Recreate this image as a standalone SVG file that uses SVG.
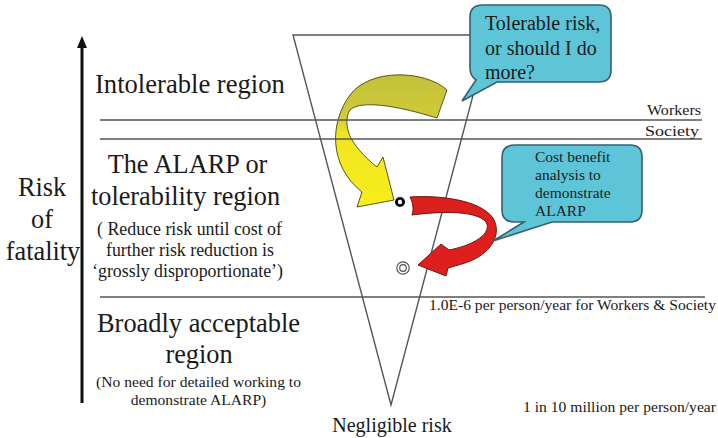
<svg xmlns="http://www.w3.org/2000/svg" width="718" height="438" viewBox="0 0 718 438">
<defs>
<style>
.t{font-family:"Liberation Serif","Times New Roman",serif;fill:#1a1a1a}
.big{font-size:26.3px}
.mid{font-size:18px}
.sm{font-size:15.6px}
.ln{stroke:#555;stroke-width:1.4;fill:none}
.bub{fill:#5EC5D9;stroke:#35606c;stroke-width:1.6}
</style>
<linearGradient id="yg" x1="0" y1="0" x2="0" y2="1">
<stop offset="0" stop-color="#C4C03C"/>
<stop offset="0.3" stop-color="#CFCA36"/>
<stop offset="0.45" stop-color="#EFE622"/>
<stop offset="1" stop-color="#F8EE1A"/>
</linearGradient>
</defs>
<rect width="718" height="438" fill="#fff"/>

<g id="yellow-arrow">
<path d="M447,90 C425,70 370,68 350,95 C330,122 328,165 362,192 L357,207 L394,200 L383,157 L377,167 C368,160 358,150 352,140 C345,128 346,116 350,110 C360,100 395,105 437,118 Z" fill="url(#yg)" stroke="#5a5520" stroke-width="1"/>
</g>

<g id="connectors">
<path d="M82,403 V46" stroke="#111" stroke-width="3" fill="none"/>
<path d="M82,36 L77,48 L87,48 Z" fill="#111"/>
<path class="ln" d="M293,35 H489 L391,405 Z" stroke="#333" stroke-width="1.2"/>
<line class="ln" x1="100" y1="120" x2="702" y2="120"/>
<line class="ln" x1="100" y1="139" x2="702" y2="139"/>
<line class="ln" x1="100" y1="297" x2="705" y2="297"/>
</g>

<g id="red-arrow">
<path d="M410,197 C440,195 480,200 493,218 C503,235 490,255 465,263 L448,268 L446,276 L418,265 L441,244 L449,250 C470,246 490,236 487,224 C482,212 450,210 412,215 C414,209 413,203 410,197 Z" fill="#DF1F1E" stroke="#6a1a10" stroke-width="1"/>
</g>

<g id="markers">
<circle cx="400" cy="202" r="3.6" fill="#fff" stroke="#000" stroke-width="2.8"/>
<circle cx="403" cy="268" r="6.2" fill="#fff" stroke="#555" stroke-width="1.2"/>
<circle cx="403" cy="268" r="3.3" fill="none" stroke="#555" stroke-width="1.2"/>
</g>

<g id="bubble-tolerable">
<path class="bub" d="M483,5 H599 Q611,5 611,17 V70 Q611,82 599,82 H497 L462,101 L476,80 Q470,76 470,68 V17 Q470,5 483,5 Z"/>
<text class="t" x="485" y="30" font-size="20">Tolerable risk,</text>
<text class="t" x="485" y="55" font-size="20">or should I do</text>
<text class="t" x="485" y="79" font-size="20">more?</text>
</g>

<g id="bubble-cost">
<path class="bub" d="M515,145 H630 Q642,145 642,157 V210 Q642,222 630,222 H552 L493,241 L524,222 H514 Q502,222 502,210 V157 Q502,145 515,145 Z"/>
<text class="t" x="535" y="162" font-size="15.5">Cost benefit</text>
<text class="t" x="535" y="180" font-size="15.5">analysis to</text>
<text class="t" x="535" y="198" font-size="15.5">demonstrate</text>
<text class="t" x="535" y="216" font-size="15.5">ALARP</text>
</g>

<g id="axis-label">
<text class="t big" x="42" y="196" text-anchor="middle">Risk</text>
<text class="t big" x="42" y="228" text-anchor="middle">of</text>
<text class="t big" x="43" y="260" text-anchor="middle">fatality</text>
</g>

<g id="intolerable">
<text class="t" x="95" y="93" font-size="26.6">Intolerable region</text>
</g>

<g id="alarp">
<text class="t big" x="187.5" y="173" text-anchor="middle">The ALARP or</text>
<text class="t big" x="185.5" y="205" text-anchor="middle">tolerability region</text>
<text class="t mid" x="189.5" y="235" text-anchor="middle" textLength="185" lengthAdjust="spacingAndGlyphs">( Reduce risk until cost of</text>
<text class="t mid" x="190" y="256" text-anchor="middle" textLength="168" lengthAdjust="spacingAndGlyphs">further risk reduction is</text>
<text class="t mid" x="187.5" y="277" text-anchor="middle" textLength="191" lengthAdjust="spacingAndGlyphs">‘grossly disproportionate’)</text>
</g>

<g id="broadly">
<text class="t big" x="198.5" y="332" text-anchor="middle" textLength="203" lengthAdjust="spacingAndGlyphs">Broadly acceptable</text>
<text class="t big" x="199" y="363" text-anchor="middle">region</text>
<text class="t sm" x="198.5" y="387" text-anchor="middle" textLength="205" lengthAdjust="spacingAndGlyphs">(No need for detailed working to</text>
<text class="t sm" x="198.5" y="405" text-anchor="middle">demonstrate ALARP)</text>
</g>

<g id="thresholds">
<text class="t" x="701" y="115" font-size="14" text-anchor="end" textLength="54" lengthAdjust="spacingAndGlyphs">Workers</text>
<text class="t" x="699" y="136" font-size="14" text-anchor="end" textLength="54" lengthAdjust="spacingAndGlyphs">Society</text>
<text class="t sm" x="429" y="310" textLength="287" lengthAdjust="spacingAndGlyphs">1.0E-6 per person/year for Workers &amp; Society</text>
<text class="t sm" x="523" y="412" textLength="193" lengthAdjust="spacingAndGlyphs">1 in 10 million per person/year</text>
</g>

<g id="negligible">
<text class="t" x="392" y="432" font-size="20" text-anchor="middle">Negligible risk</text>
</g>
</svg>
